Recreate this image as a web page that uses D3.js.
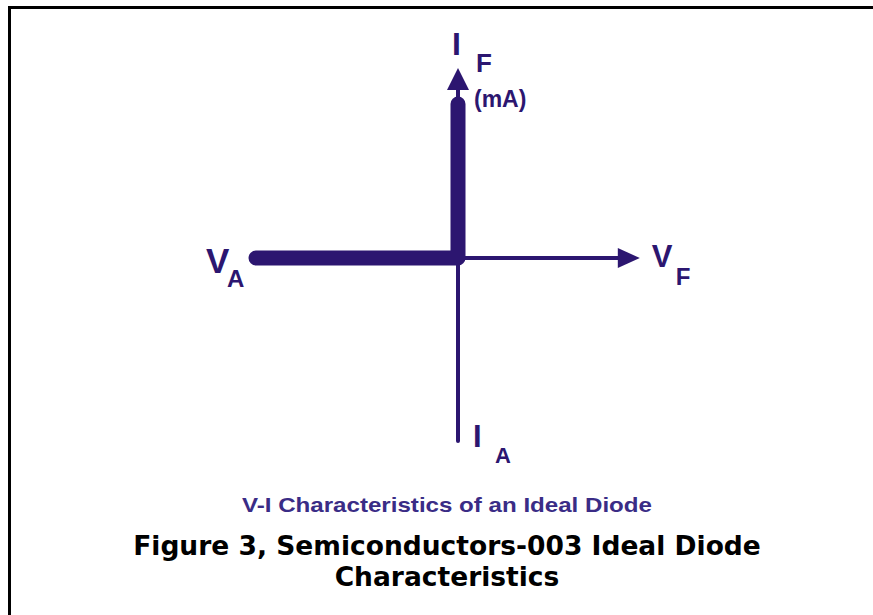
<!DOCTYPE html>
<html>
<head>
<meta charset="utf-8">
<script src="https://cdn.jsdelivr.net/npm/d3@7"></script>
<style>
  body { margin: 0; background: #fff; }
  svg { display: block; }
</style>
</head>
<body>
<figure id="idealDiode" style="margin:0"></figure>
<script>
// chart values, in normalised units (origin = 0, 0)
var vAxisEnds = [ -1, 0.9 ];          // V_A ... V_F (arrow tip)
var iAxisEnds = [ -0.915, 0.95 ];     // I_A ... I_F (arrow tip)
var curveV = [ -1, 0, 0 ];            // ideal diode: flat in reverse, vertical in forward
var curveI = [ 0, 0, 0.77 ];
var axisLabels = [ "V", "A", "V", "F", "I", "F", "(mA)", "I", "A" ];
var chartTitle = "V-I Characteristics of an Ideal Diode";
var captionLines = [ "Figure 3, Semiconductors-003 Ideal Diode", "Characteristics" ];

var dimensions = {
	width: 873,
	height: 615
};

var ink = "#2c1670";

var svg = d3.select( "figure#idealDiode" )
	.append( "svg" )
	.attr( "width", dimensions.width )
	.attr( "height", dimensions.height );

// frame: only top and left edges show
svg.append( "path" )
	.attr( "d", "M9.5,615 V7.5 H873" )
	.attr( "fill", "none" )
	.attr( "stroke", "#000" )
	.attr( "stroke-width", 3 );

// scales, origin lands at (458, 258)
var xScale = d3.scaleLinear()
	.domain( [ -1, 1 ] )
	.range( [ 256, 660 ] );

var yScale = d3.scaleLinear()
	.domain( [ -1, 1 ] )
	.range( [ 458, 58 ] );

var x0 = xScale( 0 ),
	y0 = yScale( 0 );

// thin axes
var axes = svg.append( "g" ).attr( "class", "axes" );

axes.append( "line" )
	.attr( "x1", xScale( vAxisEnds[ 0 ] ) )
	.attr( "x2", xScale( vAxisEnds[ 1 ] ) - 18 )
	.attr( "y1", y0 )
	.attr( "y2", y0 )
	.attr( "stroke", ink )
	.attr( "stroke-width", 4 );

axes.append( "line" )
	.attr( "x1", x0 )
	.attr( "x2", x0 )
	.attr( "y1", yScale( iAxisEnds[ 0 ] ) )
	.attr( "y2", yScale( iAxisEnds[ 1 ] ) + 18 )
	.attr( "stroke", ink )
	.attr( "stroke-width", 4 )
	.attr( "stroke-linecap", "round" );

// arrow heads
var tipX = xScale( vAxisEnds[ 1 ] ),
	tipY = yScale( iAxisEnds[ 1 ] );

axes.append( "path" )
	.attr( "d", `M${tipX},${y0} L${tipX - 22},${y0 - 10} L${tipX - 22},${y0 + 10} Z` )
	.attr( "fill", ink );

axes.append( "path" )
	.attr( "d", `M${x0},${tipY} L${x0 - 11},${tipY + 22} L${x0 + 11},${tipY + 22} Z` )
	.attr( "fill", ink );

// the characteristic itself
var line = d3.line()
	.x( ( d, i ) => xScale( curveV[ i ] ) )
	.y( ( d, i ) => yScale( curveI[ i ] ) );

svg.append( "path" )
	.datum( curveV )
	.attr( "d", line )
	.attr( "fill", "none" )
	.attr( "stroke", ink )
	.attr( "stroke-width", 15 )
	.attr( "stroke-linecap", "round" )
	.attr( "stroke-linejoin", "round" );

// axis labels
var labelFont = "'Liberation Sans', Arial, sans-serif";
var labelSpecs = [
	// text, x, y, size
	[ axisLabels[ 0 ], xScale( -1 ) - 50, y0 + 15, 35 ],
	[ axisLabels[ 1 ], xScale( -1 ) - 29, y0 + 29, 24 ],
	[ axisLabels[ 2 ], tipX + 12, y0 + 9, 31 ],
	[ axisLabels[ 3 ], tipX + 36, y0 + 27, 24 ],
	[ axisLabels[ 4 ], x0 - 6, tipY - 13, 32 ],
	[ axisLabels[ 5 ], x0 + 18, tipY + 4, 26 ],
	[ axisLabels[ 6 ], x0 + 16, tipY + 39, 23 ],
	[ axisLabels[ 7 ], x0 + 15, yScale( iAxisEnds[ 0 ] ) + 6, 31 ],
	[ axisLabels[ 8 ], x0 + 37, yScale( iAxisEnds[ 0 ] ) + 22, 22 ]
];

svg.append( "g" )
	.selectAll( "text" )
	.data( labelSpecs )
	.enter()
	.append( "text" )
	.attr( "x", d => d[ 1 ] )
	.attr( "y", d => d[ 2 ] )
	.attr( "font-size", d => d[ 3 ] )
	.attr( "font-family", labelFont )
	.attr( "font-weight", "bold" )
	.attr( "fill", ink )
	.text( d => d[ 0 ] );

// chart title
svg.append( "text" )
	.attr( "x", 447 )
	.attr( "y", 512 )
	.attr( "text-anchor", "middle" )
	.attr( "font-family", labelFont )
	.attr( "font-weight", "bold" )
	.attr( "font-size", 21 )
	.attr( "textLength", 410 )
	.attr( "lengthAdjust", "spacingAndGlyphs" )
	.attr( "fill", "#3a2c86" )
	.text( chartTitle );

// figure caption
svg.append( "g" )
	.selectAll( "text" )
	.data( captionLines )
	.enter()
	.append( "text" )
	.attr( "x", 447 )
	.attr( "y", ( d, i ) => 555 + i * 31 )
	.attr( "text-anchor", "middle" )
	.attr( "font-family", "'DejaVu Sans', Verdana, sans-serif" )
	.attr( "font-weight", "bold" )
	.attr( "font-size", 26.5 )
	.attr( "fill", "#000" )
	.text( d => d );
</script>
</body>
</html>
